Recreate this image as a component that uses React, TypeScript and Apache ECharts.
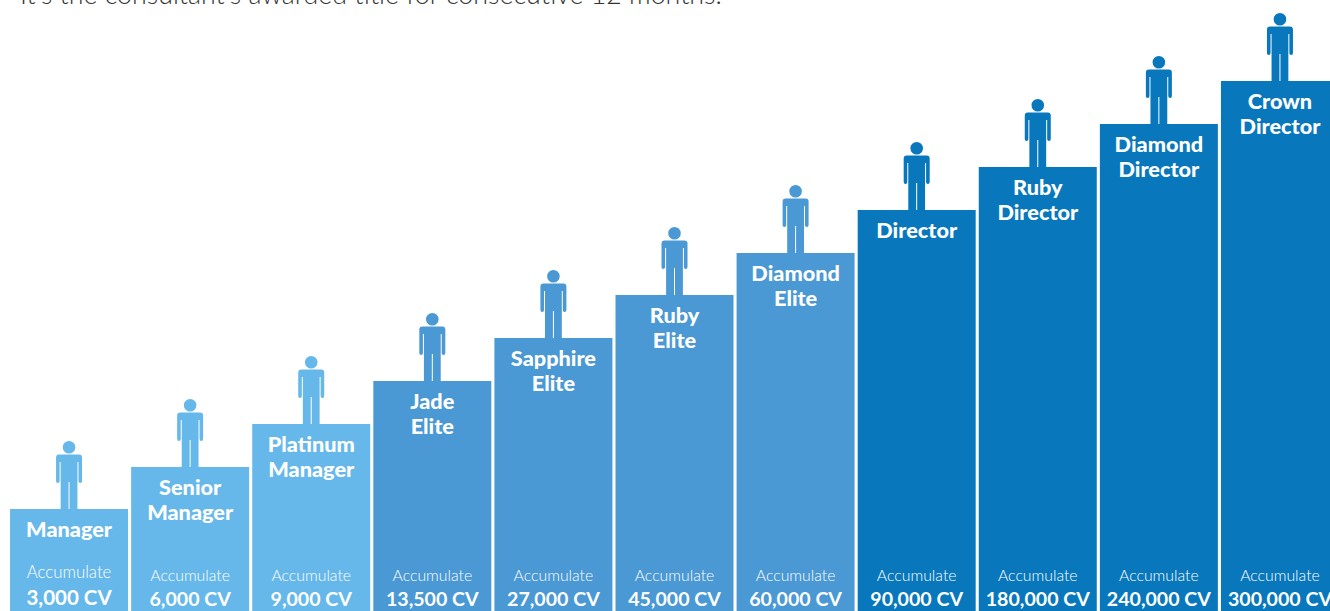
import React, { useEffect, useRef } from "react";
import * as echarts from "echarts";

// Career ladder: one step per title, each step one level higher than the last.
const titles = [
  "Manager", "Senior\nManager", "Platinum\nManager", "Jade\nElite", "Sapphire\nElite", "Ruby\nElite",
  "Diamond\nElite", "Director", "Ruby\nDirector", "Diamond\nDirector", "Crown\nDirector",
];
const accumulatedCv = [
  "3,000 CV", "6,000 CV", "9,000 CV", "13,500 CV", "27,000 CV", "45,000 CV",
  "60,000 CV", "90,000 CV", "180,000 CV", "240,000 CV", "300,000 CV",
];
// Step heights are rank-based and evenly spaced, not scaled to the CV figures.
const stepHeights = [102, 144, 187, 230, 273, 316, 358, 401, 444, 487, 530];
const stepColors = [
  "#67B8EA", "#67B8EA", "#67B8EA", "#4A98D4", "#4A98D4", "#4A98D4",
  "#4A98D4", "#0877BC", "#0877BC", "#0877BC", "#0877BC",
];
const footerBand = stepHeights.map(() => 60);
const headline = "It's the consultant's awarded title for consecutive 12 months.";

const FONT = "Lato";
const PERSON =
  "path://M13 0a6.3 6.3 0 1 1 0 12.6a6.3 6.3 0 1 1 0-12.6ZM3 13.4H23Q26 13.4 26 16.4V40Q26 42 24.2 42Q22.4 42 22.4 40V21H21.4V68H13.5V41H12.5V68H4.6V21H3.6V40Q3.6 42 1.8 42Q0 42 0 40V16.4Q0 13.4 3 13.4Z";

export default function App() {
  const ref = useRef<HTMLDivElement>(null);
  useEffect(() => {
    const chart = echarts.init(ref.current!, undefined, { renderer: "svg" });
    chart.setOption({
      animation: false,
      grid: { left: 8.5, right: 9.5, top: 0, bottom: 0 },
      xAxis: { type: "category", data: titles, show: false },
      yAxis: { type: "value", min: 0, max: 611, show: false },
      graphic: [
        {
          type: "text",
          x: 20,
          y: -20,
          style: { text: headline, fontFamily: FONT, fontWeight: 300, fontSize: 26.8, fill: "#333333" },
        },
      ],
      series: [
        {
          type: "bar",
          barWidth: 118,
          barGap: "-100%",
          data: stepHeights.map((v, i) => ({ value: v, itemStyle: { color: stepColors[i] } })),
          label: {
            show: true,
            position: "insideTop",
            distance: 7.5,
            color: "#fff",
            fontFamily: FONT,
            fontWeight: 900,
            fontSize: 21.7,
            lineHeight: 25,
            formatter: (p: any) => titles[p.dataIndex],
          },
        },
        {
          type: "bar",
          barWidth: 118,
          barGap: "-100%",
          silent: true,
          itemStyle: { color: "transparent" },
          data: footerBand.map((v, i) =>
            i === 0
              ? { value: v, label: { distance: 1, formatter: "{a0|Accumulate}\n{b0|" + accumulatedCv[0] + "}" } }
              : v,
          ),
          label: {
            show: true,
            position: "insideBottom",
            distance: 0,
            formatter: (p: any) => `{a|Accumulate}\n{b|${accumulatedCv[p.dataIndex]}}`,
            rich: {
              a: { color: "#fff", fontFamily: FONT, fontWeight: 300, fontSize: 15.8, lineHeight: 24 },
              b: { color: "#fff", fontFamily: FONT, fontWeight: 700, fontSize: 19.6, lineHeight: 25 },
              a0: { color: "#fff", fontFamily: FONT, fontWeight: 300, fontSize: 16.8, lineHeight: 26 },
              b0: { color: "#fff", fontFamily: FONT, fontWeight: 700, fontSize: 20.5, lineHeight: 26 },
            },
          },
        },
        {
          type: "pictorialBar",
          symbol: PERSON,
          symbolSize: [26, 68],
          symbolPosition: "end",
          symbolOffset: [0, "-100%"],
          data: stepHeights.map((v, i) => ({ value: v, itemStyle: { color: stepColors[i] } })),
          z: 5,
        },
      ],
    });
    return () => chart.dispose();
  }, []);
  return (
    <div style={{ position: "absolute", left: 0, top: 0, width: 1330, height: 611, overflow: "hidden", background: "#fff" }}>
      <div ref={ref} style={{ width: 1350, height: 611 }} />
    </div>
  );
}
